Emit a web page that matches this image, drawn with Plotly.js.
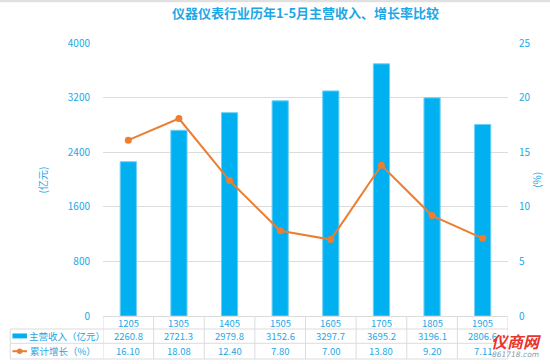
<!DOCTYPE html>
<html><head><meta charset="utf-8">
<script src="https://cdn.plot.ly/plotly-3.0.1.min.js"></script>
<style>html,body{margin:0;padding:0;background:#fff}#c{width:550px;height:364px}</style>
</head><body><div id="c"></div>
<script>
const categories = ['1205','1305','1405','1505','1605','1705','1805','1905'];
const revenue = [2260.8, 2721.3, 2979.8, 3152.6, 3297.7, 3695.2, 3196.1, 2806.6];
const growth = [16.10, 18.08, 12.40, 7.80, 7.00, 13.80, 9.20, 7.11];
const revenueLabels = ['2260.8','2721.3','2979.8','3152.6','3297.7','3695.2','3196.1','2806.6'];
const growthLabels = ['16.10','18.08','12.40','7.80','7.00','13.80','9.20','7.11'];
const seriesNames = ['主营收入（亿元）','累计增长（%）'];

const blue = '#1ea7e6';
const barColor = '#00b0f0';
const lineColor = '#ed7d31';
const gridColor = '#dcdcdc';
const font = '"Noto Sans CJK SC", "Noto Sans", sans-serif';

const traces = [
  {type:'bar', x:categories, y:revenue, name:seriesNames[0], marker:{color:barColor, line:{color:'#6fd0f5', width:1}}, yaxis:'y', hoverinfo:'skip'},
  {type:'scatter', mode:'lines+markers', x:categories, y:growth, name:seriesNames[1], line:{color:lineColor, width:2}, marker:{color:lineColor, size:7}, yaxis:'y2', hoverinfo:'skip'}
];

// table geometry in paper coords (plot area: x 103..508px, y 43..316px)
const yRowLines = [-0.0476, -0.1, -0.1575];
const yText = [-0.026, -0.073, -0.129];
const xLeft = -0.229;

const shapes = [];
const annotations = [];
yRowLines.forEach(y => shapes.push({type:'line', xref:'paper', yref:'paper', x0:xLeft, x1:1, y0:y, y1:y, line:{color:gridColor, width:1}}));
shapes.push({type:'line', xref:'paper', yref:'paper', x0:xLeft, x1:xLeft, y0:yRowLines[0], y1:yRowLines[2], line:{color:gridColor, width:1}});
for (let i = 0; i <= categories.length; i++) {
  shapes.push({type:'line', xref:'x', yref:'paper', x0:i-0.5, x1:i-0.5, y0:0, y1:yRowLines[2], line:{color:gridColor, width:1}});
}
shapes.push({type:'rect', xref:'paper', yref:'paper', x0:(12.5-103)/404.7, x1:(27-103)/404.7, y0:yText[1]-0.009, y1:yText[1]+0.009, fillcolor:barColor, line:{width:0}});
shapes.push({type:'line', xref:'paper', yref:'paper', x0:(12.5-103)/404.7, x1:(27-103)/404.7, y0:yText[2], y1:yText[2], line:{color:lineColor, width:2}});
shapes.push({type:'circle', xref:'paper', yref:'paper', x0:(17-103)/404.7, x1:(22.5-103)/404.7, y0:yText[2]-0.01, y1:yText[2]+0.01, fillcolor:lineColor, line:{width:0}});

const tfont = {size:9.5, color:blue, family:font};
const ann = (o) => annotations.push(Object.assign({showarrow:false, xanchor:'center', yanchor:'middle', font:tfont, borderpad:0}, o));

ann({xref:'paper', yref:'paper', x:(28-103)/404.7, y:yText[1], text:seriesNames[0], xanchor:'left'});
ann({xref:'paper', yref:'paper', x:(29-103)/404.7, y:yText[2], text:seriesNames[1], xanchor:'left'});

categories.forEach((c, i) => {
  ann({xref:'x', yref:'paper', x:i, y:yText[0], text:c});
  ann({xref:'x', yref:'paper', x:i, y:yText[1], text:revenueLabels[i]});
  ann({xref:'x', yref:'paper', x:i, y:yText[2], text:growthLabels[i]});
});

ann({xref:'paper', yref:'paper', x:(43-103)/404.7, y:0.5, text:'(亿元)', textangle:-90, font:{size:10, color:blue, family:font}});
ann({xref:'paper', yref:'paper', x:(536-103)/404.7, y:0.5, text:'(%)', textangle:-90, font:{size:10, color:blue, family:font}});

// watermark
ann({xref:'paper', yref:'paper', x:(516-103)/404.7, y:-0.09, text:'<b><i>仪商网</i></b>', font:{size:16, color:'#e8352e', family:font}});
ann({xref:'paper', yref:'paper', x:(515-103)/404.7, y:-0.14, text:'<i>861718.com</i>', font:{size:7.5, color:'#8a9ab0', family:'DejaVu Sans'}});

const layout = {
  width:550, height:364,
  margin:{l:103, r:42, t:43, b:48},
  paper_bgcolor:'#fff', plot_bgcolor:'#fff',
  showlegend:false, hovermode:false,
  font:{family:font, color:blue, size:10},
  title:{text:'<b>仪器仪表行业历年1-5月主营收入、增长率比较</b>', x:0.5, xref:'paper', y:0.962, yref:'container', yanchor:'middle', font:{size:13, color:blue, family:font}},
  bargap:0.68,
  xaxis:{type:'category', showticklabels:false, showgrid:false, showline:true, linecolor:gridColor, ticks:'', range:[-0.5, 7.5], fixedrange:true},
  yaxis:{range:[0,4000], dtick:800, showgrid:true, gridcolor:gridColor, zeroline:false, showline:false, tickfont:{size:10, color:blue}, ticks:'outside', ticklen:10, tickcolor:'#fff', fixedrange:true},
  yaxis2:{range:[0,25], dtick:5, overlaying:'y', side:'right', showgrid:false, zeroline:false, showline:false, tickfont:{size:10, color:blue}, ticks:'outside', ticklen:8, tickcolor:'#fff', fixedrange:true},
  shapes:shapes.concat([{type:'line', xref:'paper', yref:'paper', x0:-0.3, x1:1.2, y0:1.155, y1:1.155, line:{color:'#e0e0e0', width:3}}]),
  annotations:annotations
};

Plotly.newPlot('c', traces, layout, {staticPlot:true, displayModeBar:false});
</script></body></html>
